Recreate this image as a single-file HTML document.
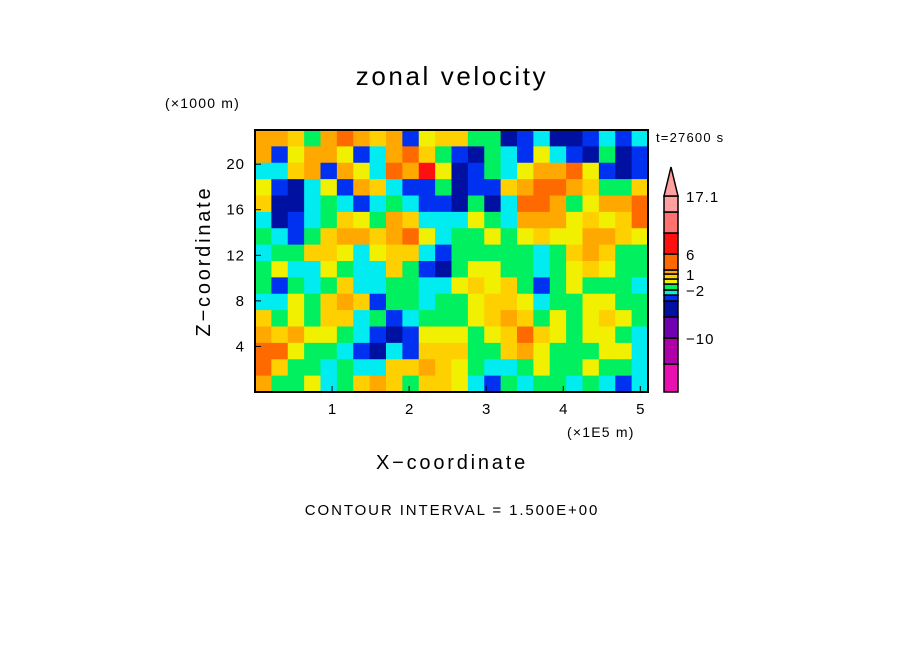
<!DOCTYPE html>
<html><head><meta charset="utf-8"><style>
body{margin:0;background:#fff;width:904px;height:654px;overflow:hidden}
svg{display:block;font-family:"Liberation Sans","DejaVu Sans",sans-serif}
</style></head><body>
<svg id="chart" width="904" height="654">
<text x="452" y="85" font-size="26" letter-spacing="2.6" text-anchor="middle">zonal velocity</text>
<text x="165" y="108" font-size="14" letter-spacing="1.2">(×1000 m)</text>
<text x="656" y="142" font-size="13" letter-spacing="1.2">t=27600 s</text>
<text x="567" y="437" font-size="14" letter-spacing="1.2">(×1E5 m)</text>
<text x="452" y="469" font-size="20" letter-spacing="2.8" text-anchor="middle">X−coordinate</text>
<text transform="translate(210,261) rotate(-90)" font-size="20" letter-spacing="2.8" text-anchor="middle">Z−coordinate</text>
<text x="452" y="515" font-size="15" letter-spacing="1.9" text-anchor="middle">CONTOUR INTERVAL = 1.500E+00</text>
<g id="field"></g><g id="axes"></g><g id="cbar"></g>
</svg>
<script>
const colors=["#e810b0","#b000a8","#7000b0","#0010a0","#0030f0","#00ecf0","#00f060","#f0f000","#ffd000","#ffa800","#ff6a00","#ff1010","#ff7070","#ffa0a0"];
const xTicks=[1,2,3,4,5];
const yTicks=[4,8,12,16,20];
const cbarLabels=["17.1","6","1","−2","−10"];
const cbarLabelIdx=[14,11,9,6,2];
const field=[
[9,9,8,6,9,10,9,8,9,4,7,8,8,6,6,3,4,5,3,3,4,5,4,5],
[9,4,7,9,9,7,4,5,9,10,8,6,4,3,6,5,4,7,5,4,3,6,3,4],
[5,5,8,9,4,9,7,5,10,9,11,7,3,4,6,5,7,9,9,10,7,4,3,4],
[7,4,3,5,7,4,9,8,5,4,4,6,3,4,4,8,9,10,10,9,8,6,6,8],
[8,3,3,5,6,5,4,5,6,5,4,4,3,6,3,5,10,10,9,6,7,9,9,10],
[5,3,4,5,6,8,7,6,9,8,5,5,5,7,6,5,9,9,9,7,8,7,8,10],
[6,5,4,6,8,9,9,8,9,10,7,5,6,6,7,6,7,8,7,7,9,9,8,7],
[5,6,6,8,8,7,5,7,8,8,5,4,6,6,6,6,6,5,6,8,9,8,6,6],
[6,7,5,5,7,6,5,5,8,6,4,3,6,7,7,6,6,5,6,7,8,7,6,6],
[6,4,6,5,6,8,5,5,6,6,5,5,7,8,7,8,6,4,6,7,6,6,6,5],
[5,5,7,6,8,9,8,4,6,6,5,6,6,7,8,8,7,5,6,6,7,7,6,6],
[8,6,7,6,8,8,5,6,4,5,6,6,6,7,8,9,8,6,7,6,7,8,7,6],
[9,8,9,7,7,6,5,4,3,4,7,7,7,6,7,8,10,8,7,6,7,7,6,5],
[10,10,7,6,6,5,4,3,5,4,8,8,8,6,6,8,9,7,6,6,6,7,7,5],
[10,8,6,6,5,6,5,5,8,8,9,8,7,6,5,5,6,7,6,6,7,6,6,5],
[9,6,6,7,5,6,8,9,8,6,8,8,7,5,4,6,5,6,6,5,6,5,4,5]];
const cbarBounds=[392,364,338,317,301,295,290,284,279,274,270,254,233,212,196];
const NS="http://www.w3.org/2000/svg";
const X0=255,X1=648,Y0=130,Y1=392,XMAX=5.1,ZMAX=23;
const sx=v=>X0+v/XMAX*(X1-X0), sy=v=>Y1-v/ZMAX*(Y1-Y0);
function mk(t,a,p){const e=document.createElementNS(NS,t);for(const k in a)e.setAttribute(k,a[k]);p.appendChild(e);return e;}
const F=document.getElementById('field');
const R=field.length,C=field[0].length,cw=(X1-X0)/C,ch=(Y1-Y0)/R;
field.forEach((row,i)=>row.forEach((v,j)=>{
 const r=mk('rect',{x:X0+j*cw,y:Y0+i*ch,width:cw+0.6,height:ch+0.6,fill:colors[v]},F);
 
 
}));
const A=document.getElementById('axes');
const fr=mk('rect',{x:X0,y:Y0,width:X1-X0,height:Y1-Y0,fill:'none',stroke:'#000','stroke-width':2},A);


xTicks.forEach(t=>{
 mk('line',{x1:sx(t),x2:sx(t),y1:Y1,y2:Y1-6,stroke:'#000'},A);
 const tx=mk('text',{x:sx(t),y:Y1+22,'font-size':15,'text-anchor':'middle'},A);tx.textContent=t;
 
 
});
yTicks.forEach(t=>{
 mk('line',{x1:X0,x2:X0+6,y1:sy(t),y2:sy(t),stroke:'#000'},A);
 const tx=mk('text',{x:X0-10,y:sy(t)+5,'font-size':15,'letter-spacing':1,'text-anchor':'end'},A);tx.textContent=t;
 
 
});
const B=document.getElementById('cbar');
for(let k=0;k<cbarBounds.length-1;k++){
 const r=mk('rect',{x:664,y:cbarBounds[k+1],width:14,height:cbarBounds[k]-cbarBounds[k+1],fill:colors[k],stroke:'#000','stroke-width':1.5},B);
 
 
}
const tri=mk('polygon',{points:'664,196 678,196 671,167',fill:colors[13],stroke:'#000','stroke-width':1.5},B);


cbarLabels.forEach((l,i)=>{
 const t=mk('text',{x:686,y:cbarBounds[cbarLabelIdx[i]]+6,'font-size':15,'letter-spacing':1},B);t.textContent=l;
 
 
});
</script>
</body></html>
